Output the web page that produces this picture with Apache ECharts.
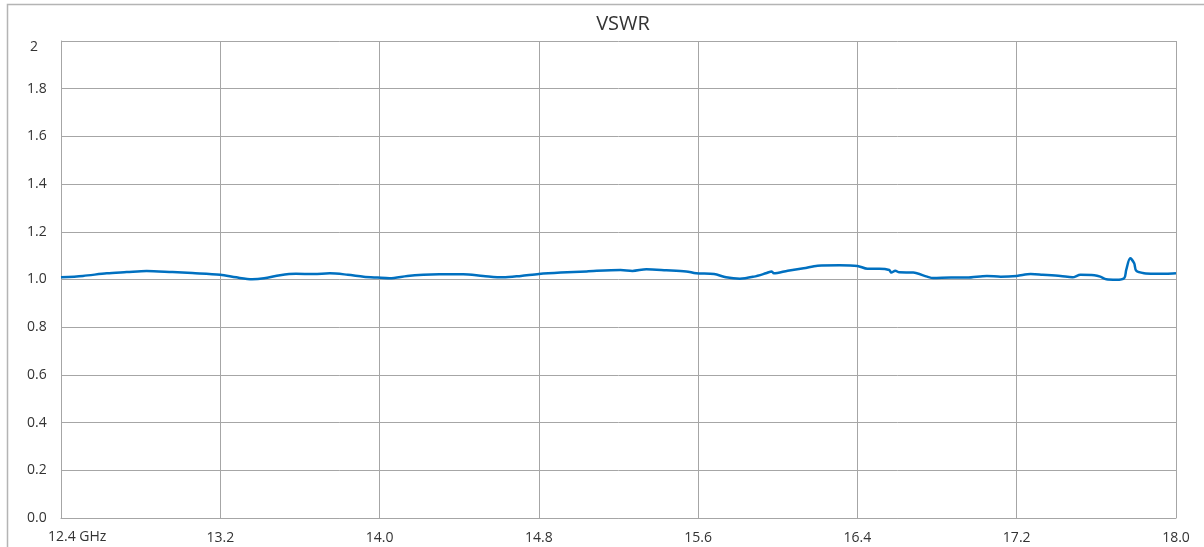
<!DOCTYPE html>
<html>
<head>
<meta charset="utf-8">
<script src="https://cdn.jsdelivr.net/npm/echarts@6/dist/echarts.min.js"></script>
<style>
html,body{margin:0;padding:0;background:#fff;}
#c{width:1204px;height:547px;}
</style>
</head>
<body>
<div id="c"></div>
<script>
// Frequency (GHz) and VSWR values
const freqGHz = [12.40,12.51,12.63,12.73,12.83,12.96,13.06,13.20,13.28,13.36,13.42,13.50,13.58,13.67,13.75,13.84,13.92,13.99,14.05,14.14,14.22,14.30,14.42,14.52,14.62,14.71,14.80,14.91,15.04,15.21,15.27,15.34,15.44,15.54,15.59,15.68,15.74,15.81,15.88,15.94,15.97,15.98,16.05,16.13,16.20,16.31,16.40,16.45,16.51,16.56,16.57,16.59,16.61,16.68,16.75,16.78,16.87,16.95,17.05,17.12,17.20,17.27,17.33,17.42,17.48,17.52,17.59,17.62,17.65,17.70,17.74,17.75,17.77,17.79,17.80,17.84,17.89,17.95,18.00];
const vswr    = [1.009,1.015,1.026,1.031,1.036,1.031,1.027,1.020,1.009,1.001,1.005,1.018,1.024,1.023,1.026,1.020,1.012,1.008,1.005,1.015,1.020,1.022,1.022,1.015,1.009,1.015,1.023,1.029,1.034,1.040,1.036,1.043,1.039,1.034,1.026,1.023,1.009,1.003,1.012,1.026,1.034,1.026,1.037,1.047,1.058,1.060,1.057,1.045,1.045,1.040,1.029,1.037,1.030,1.029,1.012,1.006,1.008,1.008,1.015,1.012,1.015,1.023,1.020,1.015,1.009,1.020,1.018,1.012,1.001,0.999,1.006,1.040,1.089,1.068,1.037,1.026,1.024,1.024,1.026];
const xStart = 12.4, xEnd = 18.0, xStep = 0.8;
const yMin = 0, yMax = 2, yStep = 0.2;
const titleText = 'VSWR';
const xUnit = ' GHz';

const font = '"Open Sans", "Noto Sans", sans-serif';
const txt = '#333333';
const grid = '#A6A6A6';
const fs = 14;

const chart = echarts.init(document.getElementById('c'));
chart.setOption({
  animation: false,
  backgroundColor: '#fff',
  graphic: [{
    type: 'rect', silent: true, z: -1,
    shape: {x: 7.5, y: 4.5, width: 1300, height: 700},
    style: {fill: 'none', stroke: '#B4B4B4', lineWidth: 1.5}
  }],
  title: [{
    text: titleText, left: 618, textAlign: 'center', top: 9,
    textStyle: {fontFamily: font, fontSize: 20, fontWeight: 'normal', color: txt}
  }, {
    text: xStart.toFixed(1) + xUnit, left: 43, top: 525,
    textStyle: {fontFamily: font, fontSize: fs, fontWeight: 'normal', color: txt}
  }],
  grid: {left: 61, right: 28, top: 41, bottom: 29, containLabel: false},
  xAxis: {
    type: 'value', min: 0, max: xEnd - xStart, interval: xStep,
    axisLine: {show: true, lineStyle: {color: grid, width: 1}},
    axisTick: {show: false},
    splitLine: {show: true, lineStyle: {color: grid, width: 1}},
    axisLabel: {
      margin: 13, color: txt, fontFamily: font, fontSize: fs,
      showMinLabel: false,
      formatter: function (v) { return (v + xStart).toFixed(1); }
    }
  },
  yAxis: {
    type: 'value', min: yMin, max: yMax, interval: yStep,
    axisLine: {show: true, lineStyle: {color: grid, width: 1}},
    axisTick: {show: false},
    splitLine: {show: true, lineStyle: {color: grid, width: 1}},
    axisLabel: {
      align: 'right', margin: 4, color: txt, fontFamily: font, fontSize: fs,
      formatter: function (v) {
        if (Math.abs(v - yMax) < 1e-9) return '{top|' + String(Math.round(v)) + '}';
        return '{a|' + v.toFixed(1) + '}';
      },
      rich: {
        a: {width: 30, align: 'left', fontFamily: font, fontSize: fs, color: txt},
        top: {width: 27, align: 'left', padding: [13, 0, 0, 3], fontFamily: font, fontSize: fs, color: txt}
      }
    }
  },
  series: [{
    type: 'line',
    data: freqGHz.map((f, i) => [f - xStart, vswr[i]]),
    showSymbol: false,
    smooth: 0.3,
    lineStyle: {color: '#0070C0', width: 2.5},
    itemStyle: {color: '#0070C0'}
  }]
});
</script>
</body>
</html>
